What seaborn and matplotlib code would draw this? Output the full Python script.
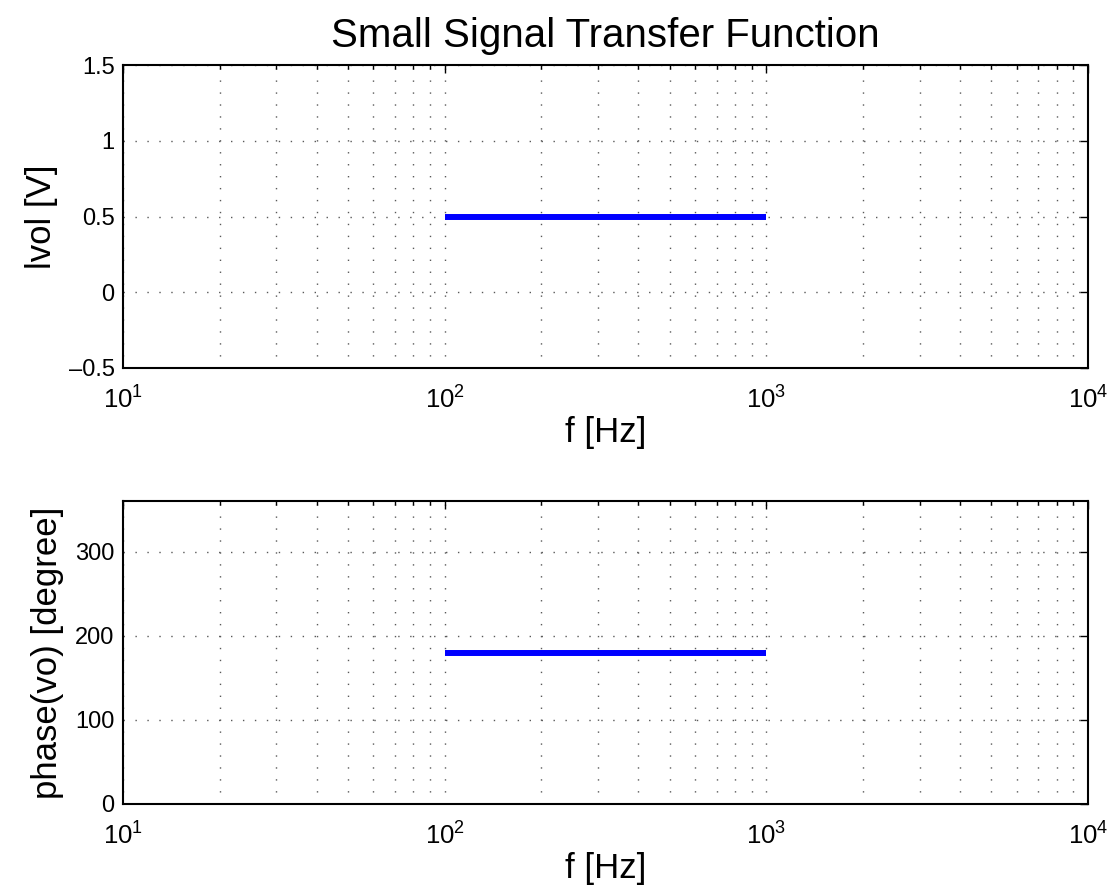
import numpy as np
import pandas as pd
import matplotlib
matplotlib.use("Agg")
import matplotlib.pyplot as plt
import seaborn as sns
from matplotlib.ticker import LogLocator, FixedLocator, NullFormatter, FuncFormatter

# data
freq = [100, 1000]
magnitude = [0.5, 0.5]
phase = [180, 180]

mag_ticks = [-0.5, 0, 0.5, 1, 1.5]
phase_ticks = [0, 100, 200, 300]

sns.set_style("white")
plt.rcParams["font.family"] = ["Liberation Sans", "DejaVu Sans"]
plt.rcParams["mathtext.fontset"] = "custom"
plt.rcParams["mathtext.rm"] = "Liberation Sans"
plt.rcParams["mathtext.it"] = "Liberation Sans"
plt.rcParams["text.color"] = "black"
plt.rcParams["axes.labelcolor"] = "black"
plt.rcParams["xtick.color"] = "black"
plt.rcParams["ytick.color"] = "black"

df = pd.DataFrame({"f": freq, "mag": magnitude, "phase": phase})

fig = plt.figure(figsize=(11.12, 8.93), dpi=100)
ax1 = fig.add_axes([123 / 1112, 1 - 368 / 893, (1088 - 123) / 1112, 303 / 893])
ax2 = fig.add_axes([123 / 1112, 1 - 804 / 893, (1088 - 123) / 1112, 303 / 893])


def style_axes(ax, yticks, ylim, ylabel):
    ax.set_xscale("log")
    ax.set_xlim(10, 1e4)
    ax.set_ylim(*ylim)
    ax.xaxis.set_major_locator(LogLocator(base=10, numticks=10))
    ax.xaxis.set_minor_locator(LogLocator(base=10, subs=np.arange(2, 10), numticks=20))
    ax.xaxis.set_minor_formatter(NullFormatter())
    ax.yaxis.set_major_locator(FixedLocator(yticks))
    ax.yaxis.set_major_formatter(FuncFormatter(lambda v, p: ("%g" % v).replace("-", "\u2013")))
    ax.tick_params(which="both", direction="in", top=True, right=True,
                   color="black", labelcolor="black")
    ax.tick_params(which="major", length=6, width=1)
    ax.tick_params(which="minor", length=3, width=1)
    ax.tick_params(axis="x", which="major", pad=13, labelsize=18.5)
    ax.tick_params(axis="y", which="major", pad=6, labelsize=17)
    ax.grid(True, which="major", axis="both", color="0.35",
            linestyle=(0, (1, 7.6)), linewidth=1)
    ax.grid(True, which="minor", axis="x", color="0.35",
            linestyle=(0, (1, 7.6)), linewidth=1)
    for s in ax.spines.values():
        s.set_color("black")
        s.set_linewidth(1.5)
    ax.set_xlabel("f [Hz]", fontsize=25, labelpad=2)
    ax.set_ylabel(ylabel, fontsize=25, labelpad=8)


sns.lineplot(data=df, x="f", y="mag", ax=ax1, color="#0000ff", linewidth=4.3,
             solid_capstyle="butt")
sns.lineplot(data=df, x="f", y="phase", ax=ax2, color="#0000ff", linewidth=4.3,
             solid_capstyle="butt")

style_axes(ax1, mag_ticks, (-0.5, 1.5), "lvol [V]")
style_axes(ax2, phase_ticks, (0, 360), "phase(vo) [degree]")

ax1.set_title("Small Signal Transfer Function", fontsize=29, pad=13)

fig.savefig("out.png", dpi=100)
